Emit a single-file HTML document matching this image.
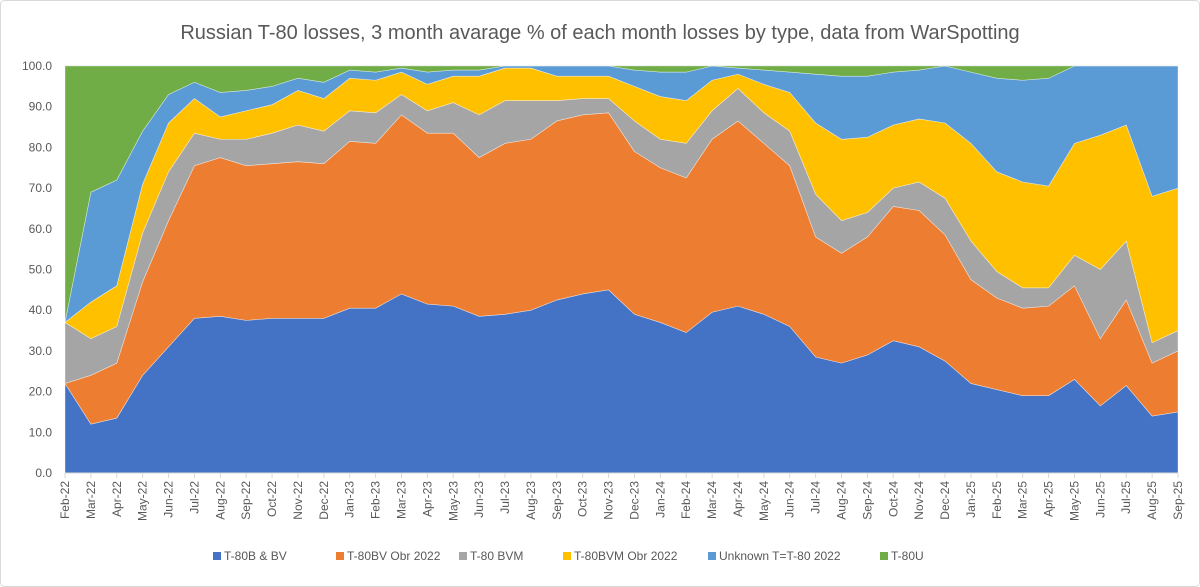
<!DOCTYPE html>
<html><head><meta charset="utf-8">
<style>
body{margin:0;background:#fff;font-family:"Liberation Sans",sans-serif;}
#wrap{position:relative;width:1200px;height:587px;overflow:hidden;}
</style></head>
<body>
<div id="wrap">
<svg id="chart" width="1200" height="587">
<rect x="0.5" y="0.5" width="1199" height="586" rx="4" fill="#fff" stroke="#d9d9d9"/>
<text x="600" y="39" text-anchor="middle" font-size="20" fill="#595959">Russian T-80 losses, 3 month avarage % of each month losses by type, data from WarSpotting</text>
<g id="grid"></g><g id="areas"></g><g id="axes"></g><g id="legend"></g>
</svg>
</div>
<script>
const months=["Feb-22","Mar-22","Apr-22","May-22","Jun-22","Jul-22","Aug-22","Sep-22","Oct-22","Nov-22","Dec-22","Jan-23","Feb-23","Mar-23","Apr-23","May-23","Jun-23","Jul-23","Aug-23","Sep-23","Oct-23","Nov-23","Dec-23","Jan-24","Feb-24","Mar-24","Apr-24","May-24","Jun-24","Jul-24","Aug-24","Sep-24","Oct-24","Nov-24","Dec-24","Jan-25","Feb-25","Mar-25","Apr-25","May-25","Jun-25","Jul-25","Aug-25","Sep-25"];
const seriesNames=["T-80B & BV","T-80BV Obr 2022","T-80 BVM","T-80BVM Obr 2022","Unknown T=T-80 2022","T-80U"];
const t80b=[22,12,13.5,24,31,38,38.5,37.5,38,38,38,40.5,40.5,44,41.5,41,38.5,39,40,42.5,44,45,39,37,34.5,39.5,41,39,36,28.5,27,29,32.5,31,27.5,22,20.5,19,19,23,16.5,21.5,14,15];
const t80bvObr=[0,12,13.5,23,31,37.5,39,38,38,38.5,38,41,40.5,44,42,42.5,39,42,42,44,44,43.5,40,38,38,42.5,45.5,42,39.5,29.5,27,29,33,33.5,31,25.5,22.5,21.5,22,23,16.5,21,13,15];
const t80bvm=[15,9,9,12,12,8,4.5,6.5,7.5,9,8,7.5,7.5,5,5.5,7.5,10.5,10.5,9.5,5,4,3.5,7.5,7,8.5,7,8,7.5,8.5,10.5,8,6,4.5,7,9,9.5,6.5,5,4.5,7.5,17,14.5,5,5];
const t80bvmObr=[0,9,10,12,12,8.5,5.5,7,7,8.5,8,8,8,5.5,6.5,6.5,9.5,8,8,6,5.5,5.5,8.5,10.5,10.5,7.5,3.5,7,9.5,17.5,20,18.5,15.5,15.5,18.5,24,24.5,26,25,27.5,33,28.5,36,35];
const unknown=[0,27,26,13,7,4,6,5,4.5,3,4,2,2,1,3,1.5,1.5,0.5,0.5,2.5,2.5,2.5,4,6,7,3.5,1.5,3.5,5,12,15.5,15,13,12,14,17.5,23,25,26.5,19,17,14.5,32,30];
const t80u=[63,31,28,16,7,4,6.5,6,5,3,4,1,1.5,0.5,1.5,1,1,0,0,0,0,0,1,1.5,1.5,0,0.5,1,1.5,2,2.5,2.5,1.5,1,0,1.5,3,3.5,3,0,0,0,0,0];
const yTicks=["0.0","10.0","20.0","30.0","40.0","50.0","60.0","70.0","80.0","90.0","100.0"];
const colors=["#4472C4","#ED7D31","#A5A5A5","#FFC000","#5B9BD5","#70AD47"];
const series=[t80b,t80bvObr,t80bvm,t80bvmObr,unknown,t80u];
const X0=65,X1=1178,Y0=473,Y1=66;
const xs=i=>X0+(X1-X0)*i/(months.length-1);
const ys=v=>Y0-(Y0-Y1)*v/100;
const NS="http://www.w3.org/2000/svg";
function mk(t,a,p){const e=document.createElementNS(NS,t);for(const k in a)e.setAttribute(k,a[k]);p.appendChild(e);return e;}
const grid=document.getElementById('grid'),areas=document.getElementById('areas'),axes=document.getElementById('axes'),legend=document.getElementById('legend');
yTicks.forEach((t,i)=>{const v=parseFloat(t);
 const l=mk('line',{x1:X0,x2:X1,y1:ys(v),y2:ys(v),stroke:'#d9d9d9'},grid);
 
 
 const tx=mk('text',{x:X0-13,y:ys(v)+4,'text-anchor':'end','font-size':12,fill:'#595959'},axes);tx.textContent=t;
 
 
});
let base=months.map(()=>0);
series.forEach((s,k)=>{
 const top=s.map((v,i)=>base[i]+v);
 let d='M'+months.map((m,i)=>xs(i)+','+ys(top[i])).join('L');
 for(let i=months.length-1;i>=0;i--)d+='L'+xs(i)+','+ys(base[i]);
 d+='Z';
 const p=mk('path',{d:d,fill:colors[k],stroke:'#fff','stroke-width':0.6,'stroke-opacity':0.6},areas);
 
 
 base=top;
});
const ax=mk('line',{x1:X0,x2:X1,y1:Y0,y2:Y0,stroke:'#d9d9d9'},axes);


months.forEach((m,i)=>{
 const tk=mk('line',{x1:xs(i),x2:xs(i),y1:Y0,y2:Y0+5,stroke:'#d9d9d9'},axes);
 
 
 const t=mk('text',{x:0,y:0,'text-anchor':'end','font-size':12,fill:'#595959',transform:`translate(${xs(i)+4},${Y0+8}) rotate(-90)`},axes);
 t.textContent=m;
 
 
});
const lx=[213,336,459,563,708,880];
seriesNames.forEach((n,k)=>{
 const g=mk('g',{},legend);
 
 
 mk('rect',{x:lx[k],y:552,width:8,height:8,fill:colors[k]},g);
 const t=mk('text',{x:lx[k]+11,y:560,'font-size':12,fill:'#595959'},g);t.textContent=n;
});
</script>
</body></html>
